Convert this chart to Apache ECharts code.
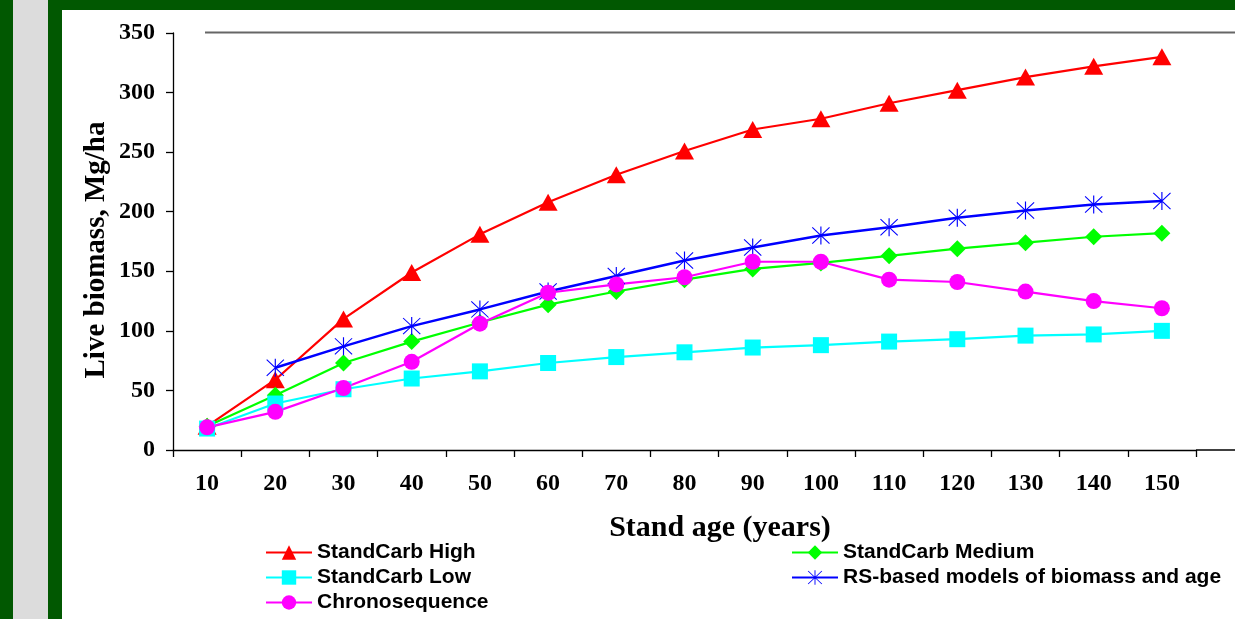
<!DOCTYPE html>
<html>
<head>
<meta charset="utf-8">
<script src="https://cdn.jsdelivr.net/npm/echarts@6/dist/echarts.min.js"></script>
<style>
html,body{margin:0;padding:0;background:#fff;}
#chart{width:1235px;height:619px;}
</style>
</head>
<body>
<div id="chart"></div>
<script>
var categories = ['10','20','30','40','50','60','70','80','90','100','110','120','130','140','150'];
var standCarbHigh = [20, 59, 110, 149, 181, 208, 231, 251, 269, 278, 291, 302, 313, 322, 330];
var standCarbMedium = [20, 46, 73, 91, 107, 122, 133, 143, 152, 157, 163, 169, 174, 179, 182];
var standCarbLow = [18, 39, 51, 60, 66, 73, 78, 82, 86, 88, 91, 93, 96, 97, 100];
var rsBased = [null, 69, 87, 104, 118, 133, 146, 159, 170, 180, 187, 195, 201, 206, 209];
var chronosequence = [19, 32, 52, 74, 106, 132, 139, 145, 158, 158, 143, 141, 133, 125, 119];
var yTicks = {min: 0, max: 350, interval: 50};

var serif = '"Liberation Serif", "Times New Roman", serif';
var sans = '"Liberation Sans", Arial, sans-serif';
var asterisk = 'path://M9.4,0L10.6,0L10.6,20L9.4,20Z M1.4,0.6L19.4,18.6L18.6,19.4L0.6,1.4Z M18.6,0.6L19.4,1.4L1.4,19.4L0.6,18.6Z';

function mk(name, data, color, symbol, size, width) {
  return {
    name: name, type: 'line', data: data,
    symbol: symbol, symbolSize: size,
    connectNulls: false,
    lineStyle: {color: color, width: width || 2},
    itemStyle: {color: color, borderWidth: 0},
    emphasis: {disabled: true},
    animation: false
  };
}

var legendText = {fontFamily: sans, fontWeight: 'bold', fontSize: 21, color: '#000', lineHeight: 20};
var chart = echarts.init(document.getElementById('chart'), null, {renderer: 'canvas'});
var green = '#015801';
chart.setOption({
  backgroundColor: '#ffffff',
  animation: false,
  grid: {left: 173, right: 39, top: 33, bottom: 169, outerBoundsMode: 'none', containLabel: false},
  xAxis: {
    type: 'category', data: categories, boundaryGap: true,
    axisLine: {lineStyle: {color: '#000', width: 1.3}},
    axisTick: {show: true, length: 7, inside: false, lineStyle: {color: '#000', width: 1.3}},
    axisLabel: {margin: 22, color: '#000', fontFamily: serif, fontWeight: 'bold', fontSize: 24, interval: 0},
    splitLine: {show: false}
  },
  yAxis: {
    type: 'value', min: yTicks.min, max: yTicks.max, interval: yTicks.interval,
    axisLine: {show: true, lineStyle: {color: '#000', width: 1.3}},
    axisTick: {show: true, length: 7, lineStyle: {color: '#000', width: 1.3}},
    axisLabel: {margin: 18, color: '#000', fontFamily: serif, fontWeight: 'bold', fontSize: 24},
    splitLine: {show: false}
  },
  legend: [
    {left: 265, top: 542, orient: 'vertical', padding: 0, itemWidth: 46, itemHeight: 18, itemGap: 4,
     height: 80,
     data: ['StandCarb High', 'StandCarb Low', 'Chronosequence'],
     textStyle: legendText, selectedMode: false},
    {left: 791, top: 542, orient: 'vertical', padding: 0, itemWidth: 46, itemHeight: 18, itemGap: 4,
     height: 80,
     data: ['StandCarb Medium', 'RS-based models of biomass and age'],
     textStyle: legendText, selectedMode: false}
  ],
  series: [
    mk('StandCarb High', standCarbHigh, '#ff0000', 'triangle', [19, 17], 2.2),
    mk('StandCarb Medium', standCarbMedium, '#00ff00', 'diamond', [17, 17], 2.2),
    mk('StandCarb Low', standCarbLow, '#00ffff', 'rect', [16, 16], 2.2),
    mk('RS-based models of biomass and age', rsBased, '#0000ff', asterisk, [18, 18], 2.5),
    mk('Chronosequence', chronosequence, '#ff00ff', 'circle', [16, 16], 2.2)
  ],
  graphic: [
    {type: 'rect', silent: true, shape: {x: 0, y: 0, width: 13, height: 619}, style: {fill: green}},
    {type: 'rect', silent: true, shape: {x: 13, y: 0, width: 35, height: 619}, style: {fill: '#dcdcdc'}},
    {type: 'rect', silent: true, shape: {x: 48, y: 0, width: 14, height: 619}, style: {fill: green}},
    {type: 'rect', silent: true, shape: {x: 48, y: 0, width: 1187, height: 10}, style: {fill: green}},
    {type: 'line', silent: true, shape: {x1: 205, y1: 32.5, x2: 1235, y2: 32.5}, style: {stroke: '#666', lineWidth: 2}},
    {type: 'line', silent: true, shape: {x1: 1196, y1: 450, x2: 1235, y2: 450}, style: {stroke: '#000', lineWidth: 1.3}},
    {type: 'text', silent: true, x: 97, y: 250, rotation: Math.PI / 2,
     style: {text: 'Live biomass, Mg/ha', font: 'bold 29px ' + serif, fill: '#000', align: 'center', verticalAlign: 'middle'}},
    {type: 'text', silent: true, x: 720, y: 528,
     style: {text: 'Stand age (years)', font: 'bold 30px ' + serif, fill: '#000', align: 'center', verticalAlign: 'middle'}}
  ]
});
</script>
</body>
</html>
